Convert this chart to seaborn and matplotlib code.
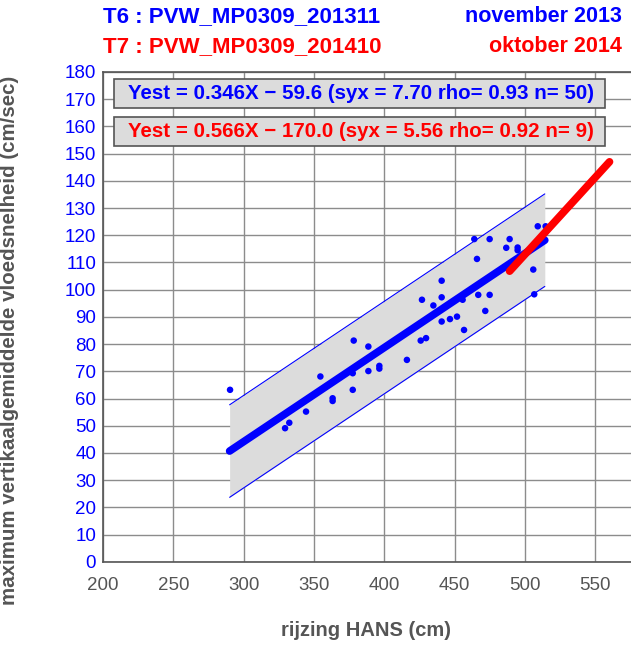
import numpy as np
import pandas as pd
import seaborn as sns
from matplotlib import pyplot as plt
from matplotlib.patches import Rectangle

sns.set_style("white")
plt.rcParams["font.family"] = ["Liberation Sans", "DejaVu Sans"]

# meetpunten T6 (rijzing HANS, vloedsnelheid)
rijzing_t6 = [290.3, 329.4, 332.4, 344.3, 354.5, 363.2, 363.2, 377.5, 377.5, 378.2,
              388.6, 388.6, 396.4, 396.4, 416.0, 425.8, 429.6, 426.7, 434.8, 440.7,
              440.7, 440.7, 446.6, 451.6, 455.6, 456.6, 463.9, 465.8, 466.7, 471.7,
              474.8, 474.8, 486.6, 489.0, 494.7, 494.7, 505.8, 506.5, 509.0, 514.6]
snelheid_t6 = [63.2, 49.1, 51.1, 55.2, 68.1, 60.1, 59.1, 63.2, 69.3, 81.3,
               79.1, 70.1, 72.0, 71.0, 74.2, 81.3, 82.2, 96.3, 94.2, 97.2,
               103.3, 88.3, 89.2, 90.1, 96.3, 85.2, 118.6, 111.3, 98.1, 92.2,
               98.1, 118.6, 115.4, 118.6, 115.5, 114.5, 107.4, 98.3, 123.3, 123.3]

# regressielijnen (eindpunten) en betrouwbaarheidsband T6
lijn_t6_x = [290, 514]
lijn_t6_y = [40.7, 118.2]
band_boven = [57.7, 135.2]
band_onder = [23.7, 101.2]
lijn_t7_x = [489, 560]
lijn_t7_y = [106.8, 147.0]

titel_t6 = "T6 : PVW_MP0309_201311"
titel_t7 = "T7 : PVW_MP0309_201410"
datum_t6 = "november 2013"
datum_t7 = "oktober 2014"
formule_t6 = "Yest = 0.346X \u2212 59.6 (syx = 7.70 rho= 0.93 n= 50)"
formule_t7 = "Yest = 0.566X \u2212 170.0 (syx = 5.56 rho= 0.92 n= 9)"

W, H = 631, 647
fig = plt.figure(figsize=(W / 100, H / 100), dpi=100)
ax = fig.add_axes([103 / W, 85.2 / H, 562.8 / W, 489.8 / H])

ax.set_axisbelow(True)
ax.grid(True, color="#8c8c8c", linewidth=1)

# band
ax.fill_between(lijn_t6_x, band_onder, band_boven, color="#dcdcdc", zorder=2, linewidth=0)
sns.lineplot(x=lijn_t6_x, y=band_boven, ax=ax, color="blue", linewidth=0.8, zorder=3)
sns.lineplot(x=lijn_t6_x, y=band_onder, ax=ax, color="blue", linewidth=0.8, zorder=3)

df = pd.DataFrame({"rijzing": rijzing_t6, "snelheid": snelheid_t6})
sns.scatterplot(data=df, x="rijzing", y="snelheid", ax=ax, color="blue", s=22,
                edgecolor="none", zorder=4)

ax.plot(lijn_t6_x, lijn_t6_y, color="blue", linewidth=5.5, solid_capstyle="round", zorder=5)
ax.plot(lijn_t7_x, lijn_t7_y, color="red", linewidth=5.5, solid_capstyle="round", zorder=6)

ax.set_xlim(200, 600)
ax.set_ylim(0, 180)
ax.set_xticks(np.arange(200, 551, 50))
ax.set_yticks(np.arange(0, 181, 10))
ax.tick_params(axis="x", labelsize=13.5, labelcolor="#555555", length=0, pad=11)
ax.tick_params(axis="y", labelsize=13.5, labelcolor="blue", length=0, pad=5)
for s in ["left", "bottom", "top", "right"]:
    ax.spines[s].set_color("#555555")
    ax.spines[s].set_linewidth(1.2)

ax.set_xlabel("rijzing HANS (cm)", fontsize=14.5, fontweight="bold", color="#555555")
ax.set_ylabel("maximum vertikaalgemiddelde vloedsnelheid (cm/sec)", fontsize=14.8,
              fontweight="bold", color="#555555")
ax.xaxis.set_label_coords(0.467, -0.12)
ax.yaxis.set_label_coords(-0.15, 0.453)

# formule kaders
for (y0, y1, tekst, kleur) in [(0.927, 0.985, formule_t6, "blue"), (0.849, 0.9075, formule_t7, "red")]:
    ax.add_patch(Rectangle((0.0195, y0), 0.8724, y1 - y0, transform=ax.transAxes,
                           facecolor="#dcdcdc", edgecolor="#555555", linewidth=1.2, zorder=7))
    ax.text(0.4585, (y0 + y1) / 2, tekst, transform=ax.transAxes, ha="center", va="center",
            fontsize=14.8, fontweight="bold", color=kleur, zorder=8)

fig.text(103 / W, 1 - 17 / H, titel_t6, ha="left", va="center", fontsize=16, fontweight="bold", color="blue")
fig.text(103 / W, 1 - 47 / H, titel_t7, ha="left", va="center", fontsize=16, fontweight="bold", color="red")
fig.text(622 / W, 1 - 17 / H, datum_t6, ha="right", va="center", fontsize=15.5, fontweight="bold", color="blue")
fig.text(622 / W, 1 - 47 / H, datum_t7, ha="right", va="center", fontsize=15.5, fontweight="bold", color="red")

fig.savefig("out.png", dpi=100)
